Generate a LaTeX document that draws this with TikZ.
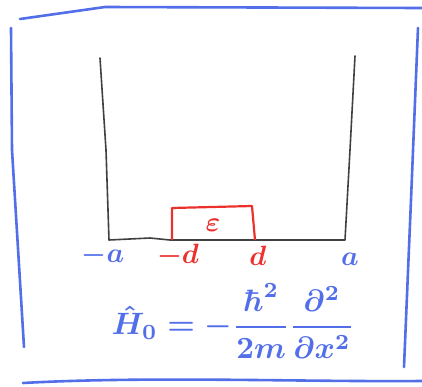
\documentclass[tikz,border=0pt]{standalone}
\usepackage{amsmath}
\usepackage{graphicx}
\definecolor{penblue}{RGB}{82,110,232}
\definecolor{penred}{RGB}{236,48,44}
\definecolor{pencil}{RGB}{64,64,64}
\newcommand{\penlabel}[2]{\scalebox{#1}{\boldmath$#2$}}

\begin{document}
\begin{tikzpicture}[
  x=1bp, y=-1bp,
  frame/.style={draw=penblue, line width=2.6bp, line cap=round, line join=round},
  well/.style={draw=pencil, line width=1.6bp, line cap=round, line join=round},
  bump/.style={draw=penred, line width=2.2bp, line join=round},
  lbl/.style={inner sep=0pt}
]
  \useasboundingbox (0,0) rectangle (422,387);
  % sketch frame
  \draw[frame] (20,19) -- (105,7) -- (422,8);
  \draw[frame] (11,28) -- (12,150) -- (24,347);
  \draw[frame] (418,28) -- (411,200) -- (404,367);
  \draw[frame] (23,383) .. controls (150,376) and (300,382) .. (422,381);
  % infinite well
  \draw[well] (100,58) -- (106,150) -- (109,240) -- (150,238) -- (170,240)
    -- (255,240) -- (345,240) -- (350,150) -- (355,56);
  % perturbation
  \draw[bump] (172,240) -- (172,208) -- (252,206) -- (255,240);
  \node[lbl, text=penred] (eps) at (213,225) {\penlabel{2.8}{\varepsilon}};
  % labels on the x axis
  \node[lbl, text=penblue] (ma) at (103,256) {\penlabel{2.8}{-a}};
  \node[lbl, text=penred] (md) at (178,256) {\penlabel{2.8}{-d}};
  \node[lbl, text=penred] (pd) at (258,256) {\penlabel{2.8}{d}};
  \node[lbl, text=penblue] (pa) at (350,259) {\penlabel{2.8}{a}};
  % hamiltonian
  \node[lbl, text=penblue] (ham) at (233,321)
    {\penlabel{3.1}{\hat{H}_0 = -\dfrac{\hbar^2}{2m}\dfrac{\partial^2}{\partial x^2}}};
\end{tikzpicture}
\end{document}
